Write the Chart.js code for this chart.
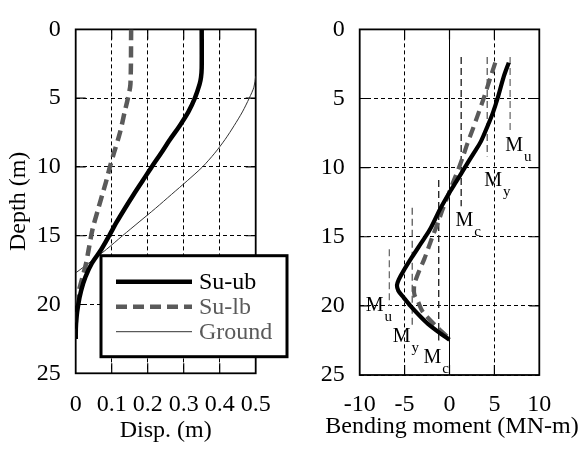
<!DOCTYPE html>
<html>
<head>
<meta charset="utf-8">
<script src="https://cdn.jsdelivr.net/npm/chart.js@4/dist/chart.umd.min.js"></script>
<style>
  html, body { margin: 0; padding: 0; background: #fff; }
  #wrap { position: relative; width: 584px; height: 450px; }
  canvas { position: absolute; top: 0; }
  #dispChart { left: 0; }
  #momentChart { left: 292px; }
</style>
</head>
<body>
<div id="wrap">
  <canvas id="dispChart" width="292" height="450"></canvas>
  <canvas id="momentChart" width="292" height="450"></canvas>
</div>
<script>
// ---- Pile displacement profiles (depth in m, displacement in m) ----
const ubDepth = [0, 2.8, 3.5, 4, 5, 6, 7, 8, 9, 10, 11, 12, 13, 14, 15, 16, 17, 18, 19, 20, 21, 22, 22.5];
const ubDisp  = [0.35, 0.35, 0.348, 0.344, 0.331, 0.313, 0.289, 0.262, 0.237, 0.211, 0.186, 0.161, 0.137, 0.114, 0.093, 0.071, 0.045, 0.027, 0.015, 0.007, 0.002, 0.0, 0.0];

const lbDepth = [0, 4, 5, 6, 7.5, 9, 10, 11, 12, 13, 14.5, 16, 17, 18, 19, 20, 21, 22.5];
const lbDisp  = [0.154, 0.152, 0.145, 0.136, 0.123, 0.106, 0.095, 0.085, 0.074, 0.063, 0.047, 0.036, 0.029, 0.019, 0.009, 0.003, 0.001, 0.0];

const groundDepth = [3.4, 4.2, 5, 6, 7, 8, 9, 10, 11, 12, 13, 14, 15, 16, 17, 17.7];
const groundDisp  = [0.5, 0.495, 0.482, 0.463, 0.44, 0.415, 0.386, 0.352, 0.31, 0.266, 0.222, 0.176, 0.13, 0.085, 0.036, 0.0];

// ---- Bending moment profiles (depth in m, moment in MN-m) ----
const momUbDepth = [2.4, 3.5, 5, 6, 6.9, 8.1, 9, 10, 11, 11.8, 13, 14.5, 15.5, 16.5, 17.5, 18.1, 18.5, 18.9, 19.4, 20, 20.7, 21.3, 22, 22.45];
const momUbValue = [6.6, 6.0, 5.35, 4.85, 4.3, 3.5, 2.65, 1.7, 0.76, 0, -1.05, -2.2, -3.2, -4.2, -5.15, -5.65, -5.85, -5.7, -5.1, -4.35, -3.35, -2.4, -1.0, 0];

const momLbDepth = [2.4, 3.5, 5, 6.2, 7.2, 8.3, 9.2, 10, 10.9, 12, 13, 14, 15, 16.6, 17.5, 18.2, 18.7, 19.2, 19.7, 20.4, 21.4, 22.2];
const momLbValue = [5.1, 4.55, 3.8, 3.15, 2.6, 1.97, 1.5, 1.05, 0.5, -0.15, -0.75, -1.3, -1.9, -2.8, -3.4, -3.8, -3.95, -3.9, -3.5, -3.0, -1.6, -0.3];

// Section capacities: cracking (c), yield (y), ultimate (u), each drawn over a depth range
const capSub    = ['c', 'y', 'u', 'c', 'y', 'u'];
const capMoment = [1.3, 4.2, 6.75, -1.2, -4.15, -6.7];
const capTop    = [2, 2, 2, 10.9, 12.9, 15.9];
const capBottom = [12.8, 9.2, 7.3, 22.5, 21.6, 20.0];

// ---- Tick labels ----
const dispTickValues   = [0, 0.1, 0.2, 0.3, 0.4, 0.5];
const dispTicks        = ['0', '0.1', '0.2', '0.3', '0.4', '0.5'];
const momentTickValues = [-10, -5, 0, 5, 10];
const momentTicks      = ['-10', '-5', '0', '5', '10'];
const depthTickValues  = [0, 5, 10, 15, 20, 25];
const depthTicks       = ['0', '5', '10', '15', '20', '25'];

// ---- Presentation ----
const SERIF = "'Liberation Serif', 'Times New Roman', serif";
Chart.defaults.font.family = SERIF;
Chart.defaults.color = '#000';

const capStyle = { c: '#1a1a1a', y: '#5a5a5a', u: '#6e6e6e' };
// where each capacity name is written (baseline-left of the "M"), same order as capSub
const capLabelAt = [
  { x: 0.67,  y: 14.2 },
  { x: 3.86,  y: 11.3 },
  { x: 6.2,   y: 8.8 },
  { x: -2.9,  y: 24.1 },
  { x: -6.33, y: 22.6 },
  { x: -9.33, y: 20.4 }
];

const zip = (xs, ys) => xs.map((x, i) => ({ x: x, y: ys[i] }));

// label lookup by tick value (robust to reversed axes)
const labelFor = (values, labels) => v => {
  const k = values.findIndex(t => Math.abs(t - v) < 1e-9);
  return k < 0 ? '' : labels[k];
};

const curve = (label, pts, color, width, dash) => ({
  label: label,
  data: pts,
  showLine: true,
  borderColor: color,
  borderWidth: width,
  borderDash: dash || [],
  pointRadius: 0,
  pointHoverRadius: 0,
  tension: 0.3,
  fill: false
});

// frame around the plotting area plus short inward ticks
const framePlugin = {
  id: 'frame',
  beforeDatasetsDraw(chart) {
    const { ctx, chartArea: a, scales } = chart;
    const tl = 10;
    ctx.save();
    ctx.strokeStyle = '#000';
    ctx.lineWidth = 1.2;
    ctx.setLineDash([]);
    ctx.beginPath();
    scales.x.ticks.forEach(t => {
      if (t.value <= scales.x.min || t.value >= scales.x.max) return;
      const px = scales.x.getPixelForValue(t.value);
      ctx.moveTo(px, a.bottom); ctx.lineTo(px, a.bottom - tl);
      ctx.moveTo(px, a.top); ctx.lineTo(px, a.top + tl);
    });
    scales.y.ticks.forEach(t => {
      if (t.value <= scales.y.min || t.value >= scales.y.max) return;
      const py = scales.y.getPixelForValue(t.value);
      ctx.moveTo(a.left, py); ctx.lineTo(a.left + tl, py);
      ctx.moveTo(a.right, py); ctx.lineTo(a.right - tl, py);
    });
    ctx.stroke();
    ctx.lineWidth = 1.8;
    ctx.strokeRect(a.left, a.top, a.right - a.left, a.bottom - a.top);
    ctx.restore();
  }
};

// boxed legend drawn from the dataset styles
const boxLegendPlugin = {
  id: 'boxLegend',
  afterDraw(chart, args, o) {
    const ctx = chart.ctx;
    ctx.save();
    ctx.fillStyle = '#fff';
    ctx.fillRect(o.x, o.y, o.w, o.h);
    ctx.lineWidth = 3;
    ctx.strokeStyle = '#000';
    ctx.setLineDash([]);
    ctx.strokeRect(o.x, o.y, o.w, o.h);
    chart.data.datasets.forEach((ds, i) => {
      const y = o.y + o.firstRow + i * o.rowStep;
      ctx.beginPath();
      ctx.setLineDash(ds.borderDash || []);
      ctx.lineWidth = ds.borderWidth;
      ctx.strokeStyle = ds.borderColor;
      ctx.moveTo(o.x + o.lineFrom, y);
      ctx.lineTo(o.x + o.lineTo, y);
      ctx.stroke();
      ctx.setLineDash([]);
      ctx.fillStyle = o.textColors[i];
      ctx.font = '24px ' + SERIF;
      ctx.textAlign = 'left';
      ctx.textBaseline = 'middle';
      ctx.fillText(ds.label, o.x + o.textX, y + 1);
    });
    ctx.restore();
  }
};

// capacity names (M with subscript) and the axis caption of the moment panel
const momentTextPlugin = {
  id: 'momentText',
  afterDraw(chart, args, o) {
    const { ctx, scales } = chart;
    ctx.save();
    ctx.fillStyle = '#000';
    ctx.textAlign = 'left';
    ctx.textBaseline = 'alphabetic';
    capLabelAt.forEach((p, i) => {
      const px = scales.x.getPixelForValue(p.x);
      const py = scales.y.getPixelForValue(p.y);
      ctx.font = '20px ' + SERIF;
      ctx.fillText('M', px, py);
      const w = ctx.measureText('M').width;
      ctx.font = '15px ' + SERIF;
      ctx.fillText(capSub[i], px + w + 1, py + 10);
    });
    ctx.font = '24px ' + SERIF;
    ctx.textAlign = 'center';
    ctx.textBaseline = 'middle';
    ctx.fillText(o.caption, o.captionX, o.captionY);
    ctx.restore();
  }
};

const gridOpts = { color: '#000', lineWidth: 1, drawTicks: false };

// ---- Left panel: displacement ----
new Chart(document.getElementById('dispChart'), {
  type: 'scatter',
  data: {
    datasets: [
      curve('Su-ub', zip(ubDisp, ubDepth), '#000', 4.5),
      curve('Su-lb', zip(lbDisp, lbDepth), '#5a5a5a', 4.5, [11, 6]),
      curve('Ground', zip(groundDisp, groundDepth), '#333', 1)
    ]
  },
  options: {
    responsive: false,
    animation: false,
    devicePixelRatio: 1,
    layout: { padding: { top: 16, right: 36.3, left: 0, bottom: 0 } },
    plugins: {
      legend: { display: false },
      tooltip: { enabled: false },
      boxLegend: {
        x: 101, y: 255.7, w: 186, h: 101,
        firstRow: 26, rowStep: 25,
        lineFrom: 15, lineTo: 91, textX: 98,
        textColors: ['#000', '#5a5a5a', '#5a5a5a']
      }
    },
    scales: {
      x: {
        type: 'linear', position: 'bottom', min: 0, max: 0.5,
        ticks: { stepSize: 0.1, padding: 17, font: { size: 24 }, maxRotation: 0, minRotation: 0, autoSkip: false,
                 callback: labelFor(dispTickValues, dispTicks) },
        grid: gridOpts,
        border: { display: false, dash: [4, 3] },
        title: { display: true, text: 'Disp. (m)', font: { size: 24 }, padding: { top: 0, bottom: 4.6 } },
        afterFit: s => { s.height = 76.7; }
      },
      y: {
        type: 'linear', reverse: true, min: 0, max: 25,
        ticks: { stepSize: 5, padding: 15, font: { size: 24 }, autoSkip: false,
                 callback: labelFor(depthTickValues, depthTicks) },
        grid: gridOpts,
        border: { display: false, dash: [4, 3] },
        title: { display: true, text: 'Depth (m)', font: { size: 24 }, padding: { top: 4.5, bottom: 0 } },
        afterFit: s => { s.width = 75.7; }
      }
    }
  },
  plugins: [framePlugin, boxLegendPlugin]
});

// ---- Right panel: bending moment ----
const capSets = capMoment.map((m, i) => ({
  label: 'M' + capSub[i],
  data: [{ x: m, y: capTop[i] }, { x: m, y: capBottom[i] }],
  showLine: true,
  borderColor: capStyle[capSub[i]],
  borderWidth: 1.3,
  borderDash: [7, 4],
  pointRadius: 0,
  pointHoverRadius: 0
}));

new Chart(document.getElementById('momentChart'), {
  type: 'scatter',
  data: {
    datasets: [
      curve('Su-ub', zip(momUbValue, momUbDepth), '#000', 4.2),
      curve('Su-lb', zip(momLbValue, momLbDepth), '#5a5a5a', 4.2, [11, 6])
    ].concat(capSets)
  },
  options: {
    responsive: false,
    animation: false,
    devicePixelRatio: 1,
    layout: { padding: { top: 22.7, right: 44.7, left: 0, bottom: 0 } },
    plugins: {
      legend: { display: false },
      tooltip: { enabled: false },
      momentText: { caption: 'Bending moment (MN-m)', captionX: 160, captionY: 427 }
    },
    scales: {
      x: {
        type: 'linear', position: 'bottom', min: -10, max: 10,
        ticks: { stepSize: 5, padding: 15.6, font: { size: 24 }, maxRotation: 0, minRotation: 0, autoSkip: false,
                 callback: labelFor(momentTickValues, momentTicks) },
        grid: gridOpts,
        border: { display: false, dash: c => (c.tick && c.tick.value === 0) ? [] : [4, 3] },
        title: { display: false },
        afterFit: s => { s.height = 75; }
      },
      y: {
        type: 'linear', reverse: true, min: 0, max: 25,
        ticks: { stepSize: 5, padding: 15, font: { size: 24 }, autoSkip: false,
                 callback: labelFor(depthTickValues, depthTicks) },
        grid: gridOpts,
        border: { display: false, dash: [4, 3] },
        afterFit: s => { s.width = 67.7; }
      }
    }
  },
  plugins: [framePlugin, momentTextPlugin]
});
</script>
</body>
</html>
